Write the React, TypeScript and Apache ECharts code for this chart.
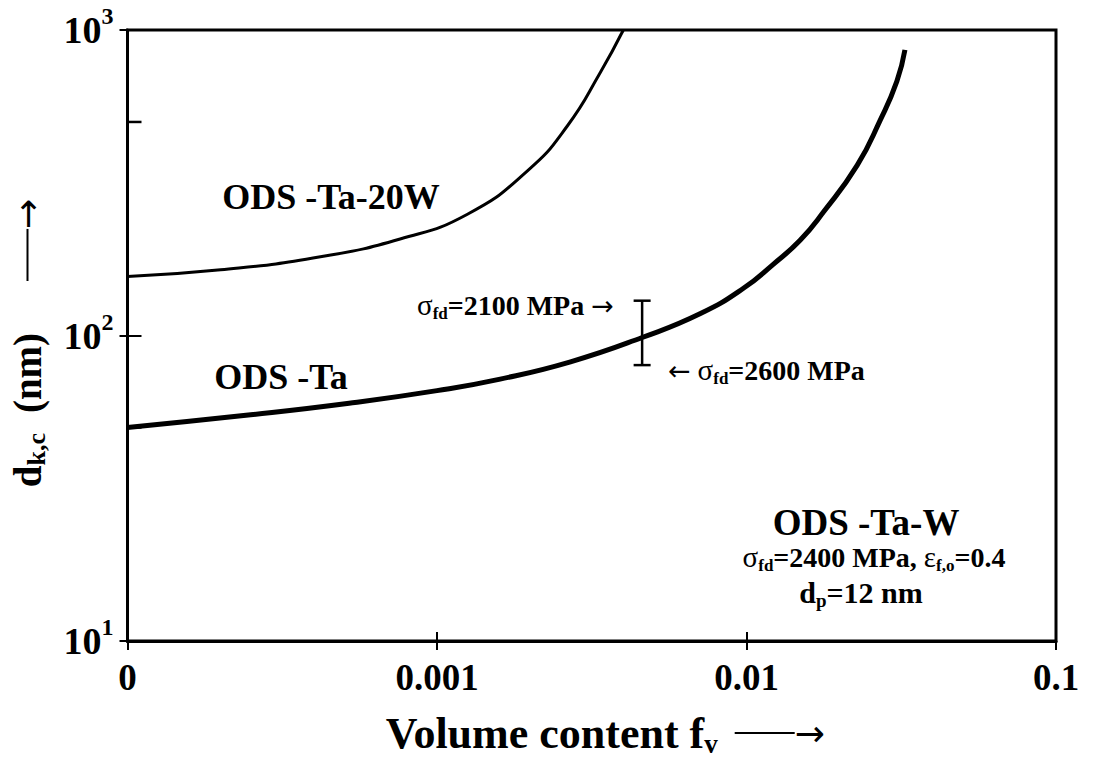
import React, { useEffect, useRef } from "react";
import * as echarts from "echarts";

// ---- data ----
const fvTa20W = [1e-4, 2e-4, 4.2e-4, 7.6e-4, 1.25e-3, 1.96e-3, 2.64e-3, 3.37e-3, 4.0e-3];
const dTa20W = [156, 164, 181, 207, 249, 346, 486, 726, 1000];

const fvTa = [1e-4, 2.5e-4, 5.2e-4, 1e-3, 1.6e-3, 2.7e-3, 4.6e-3, 7.1e-3, 9.8e-3, 1.22e-2, 1.49e-2, 1.77e-2, 2.28e-2, 2.7e-2, 3.06e-2, 3.25e-2];
const dTa = [50, 55, 60, 66, 72, 82, 98.5, 118, 143, 171, 205, 253, 361, 505, 679, 861];

const errFv = [4.6e-3];
const errLow = [80];
const errHigh = [130];

const xTicks = [1e-4, 1e-3, 1e-2, 1e-1];
const xTickLabels = ["0", "0.001", "0.01", "0.1"];
const yMinorTicks = [50, 500];

const FONT = "'Liberation Serif', 'Times New Roman', Times, serif";
const ARROW_FONT = "'DejaVu Sans', sans-serif";

export default function App() {
  const ref = useRef<HTMLDivElement>(null);

  useEffect(() => {
    if (!ref.current) return;
    const chart = echarts.init(ref.current, undefined, { renderer: "svg" });

    const xLabel = (v: number) => {
      const i = xTicks.findIndex((t) => Math.abs(Math.log10(t) - Math.log10(v)) < 0.01);
      return i >= 0 ? xTickLabels[i] : "";
    };
    const yLabel = (v: number) => `{b|10}{s|${Math.round(Math.log10(v))}}`;

    const bold = (size: number, extra: any = {}) => ({
      fontSize: size,
      fontWeight: "bold",
      fontFamily: FONT,
      fill: "#000",
      ...extra,
    });

    const annRich = {
      g: { fontSize: 29, fontFamily: FONT, fill: "#000", lineHeight: 34 },
      sub: { fontSize: 17, fontWeight: "bold", fontFamily: FONT, fill: "#000", verticalAlign: "bottom" },
      b: bold(28, { lineHeight: 34 }),
      a: { fontSize: 27, fontFamily: ARROW_FONT, fill: "#000" },
    };

    const option: any = {
      animation: false,
      backgroundColor: "#fff",
      grid: {
        left: 127,
        right: 38,
        top: 30,
        bottom: 112,
        show: true,
        borderColor: "#000",
        borderWidth: 3,
        backgroundColor: "transparent",
      },
      xAxis: [
        {
          type: "log",
          logBase: 10,
          min: 1e-4,
          max: 0.1,
          position: "bottom",
          axisLine: { show: true, lineStyle: { color: "#000", width: 3 } },
          axisTick: { show: true, inside: false, length: 9, lineStyle: { color: "#000", width: 2 } },
          splitLine: { show: false },
          axisLabel: {
            formatter: xLabel,
            fontSize: 37,
            fontWeight: "bold",
            fontFamily: FONT,
            color: "#000",
            margin: 18,
          },
          name: "{b|Volume content f}{s|v}{g| }{ln| }{a|→}",
          nameLocation: "middle",
          nameGap: 68,
          nameTextStyle: {
            padding: [0, 0, 0, 27],
            rich: {
              b: { fontSize: 44, fontWeight: "bold", fontFamily: FONT, color: "#000", lineHeight: 48 },
              s: { fontSize: 27, fontWeight: "bold", fontFamily: FONT, color: "#000", verticalAlign: "bottom" },
              g: { width: 17 },
              ln: { width: 60, height: 2, backgroundColor: "#000" },
              a: { fontSize: 36, fontWeight: "normal", fontFamily: ARROW_FONT, color: "#000" },
            },
          },
        },
        {
          type: "log",
          logBase: 10,
          min: 1e-4,
          max: 0.1,
          position: "bottom",
          axisLine: { show: false },
          axisTick: { show: true, inside: true, length: 9, lineStyle: { color: "#000", width: 2 } },
          axisLabel: { show: false },
          splitLine: { show: false },
        },
      ],
      yAxis: [
        {
          type: "log",
          logBase: 10,
          min: 10,
          max: 1000,
          position: "left",
          axisLine: { show: true, lineStyle: { color: "#000", width: 3 } },
          axisTick: { show: true, inside: false, length: 8, lineStyle: { color: "#000", width: 2 } },
          splitLine: { show: false },
          axisLabel: {
            formatter: yLabel,
            margin: 14,
            rich: {
              b: { fontSize: 38, fontWeight: "bold", fontFamily: FONT, color: "#000", lineHeight: 52 },
              s: { fontSize: 24, fontWeight: "bold", fontFamily: FONT, color: "#000", verticalAlign: "top" },
            },
          },
          name: "{b|d}{s|k,c}{g| }{b|(nm)}{g2| }{ln| }{a|→}",
          nameLocation: "middle",
          nameRotate: 90,
          nameGap: 78,
          nameTextStyle: {
            padding: [0, 15, 0, 0],
            rich: {
              b: { fontSize: 39, fontWeight: "bold", fontFamily: FONT, color: "#000", lineHeight: 44 },
              s: { fontSize: 26, fontWeight: "bold", fontFamily: FONT, color: "#000", verticalAlign: "bottom" },
              g: { width: 20 },
              g2: { width: 52 },
              ln: { width: 52, height: 2, backgroundColor: "#000" },
              a: { fontSize: 36, fontWeight: "normal", fontFamily: ARROW_FONT, color: "#000" },
            },
          },
        },
        {
          type: "log",
          logBase: 10,
          min: 10,
          max: 1000,
          position: "left",
          axisLine: { show: false },
          axisTick: { show: true, inside: true, length: 14, lineStyle: { color: "#000", width: 2 } },
          axisLabel: { show: false },
          splitLine: { show: false },
        },
      ],
      series: [
        {
          name: "ODS-Ta-20W",
          type: "line",
          xAxisIndex: 0,
          yAxisIndex: 0,
          smooth: 0.5,
          symbol: "none",
          lineStyle: { color: "#000", width: 3 },
          data: fvTa20W.map((f, i) => [f, dTa20W[i]]),
        },
        {
          name: "ODS-Ta",
          type: "line",
          xAxisIndex: 0,
          yAxisIndex: 0,
          smooth: 0.5,
          symbol: "none",
          lineStyle: { color: "#000", width: 5 },
          data: fvTa.map((f, i) => [f, dTa[i]]),
        },
        {
          name: "minor ticks",
          type: "custom",
          xAxisIndex: 0,
          yAxisIndex: 0,
          silent: true,
          data: yMinorTicks.map((v) => [xTicks[0], v]),
          renderItem: (_p: any, api: any) => {
            const p = api.coord([api.value(0), api.value(1)]);
            return {
              type: "line",
              shape: { x1: p[0], y1: p[1], x2: p[0] + 14, y2: p[1] },
              style: { stroke: "#000", lineWidth: 2.5 },
            };
          },
        },
        {
          name: "error bar",
          type: "custom",
          xAxisIndex: 0,
          yAxisIndex: 0,
          silent: true,
          data: errFv.map((f, i) => [f, errLow[i], errHigh[i]]),
          encode: { x: 0, y: [1, 2] },
          renderItem: (_p: any, api: any) => {
            const lo = api.coord([api.value(0), api.value(1)]);
            const hi = api.coord([api.value(0), api.value(2)]);
            const w = 8.5;
            const st = { stroke: "#000", lineWidth: 2.5 };
            return {
              type: "group",
              children: [
                { type: "line", shape: { x1: lo[0], y1: lo[1], x2: hi[0], y2: hi[1] }, style: st },
                { type: "line", shape: { x1: lo[0] - w, y1: lo[1], x2: lo[0] + w, y2: lo[1] }, style: st },
                { type: "line", shape: { x1: hi[0] - w, y1: hi[1], x2: hi[0] + w, y2: hi[1] }, style: st },
              ],
            };
          },
        },
      ],
      graphic: [
        {
          type: "text",
          x: 331,
          y: 197,
          style: { text: "ODS -Ta-20W", ...bold(36), align: "center", verticalAlign: "middle" },
        },
        {
          type: "text",
          x: 281,
          y: 377,
          style: { text: "ODS -Ta", ...bold(36), align: "center", verticalAlign: "middle" },
        },
        {
          type: "text",
          x: 417,
          y: 305,
          style: {
            text: "{g|σ}{sub|fd}{b|=2100 MPa }{a|→}",
            align: "left",
            verticalAlign: "middle",
            rich: annRich,
          },
        },
        {
          type: "text",
          x: 668,
          y: 370,
          style: {
            text: "{a|←}{b| }{g|σ}{sub|fd}{b|=2600 MPa}",
            align: "left",
            verticalAlign: "middle",
            rich: annRich,
          },
        },
        {
          type: "text",
          x: 866,
          y: 522,
          style: { text: "ODS -Ta-W", ...bold(37), align: "center", verticalAlign: "middle" },
        },
        {
          type: "text",
          x: 874,
          y: 557,
          style: {
            text: "{g|σ}{sub|fd}{b|=2400 MPa, }{g|ε}{sub|f,o}{b|=0.4}",
            align: "center",
            verticalAlign: "middle",
            rich: annRich,
          },
        },
        {
          type: "text",
          x: 861,
          y: 592,
          style: {
            text: "{b|d}{sub|p}{b|=12 nm}",
            align: "center",
            verticalAlign: "middle",
            rich: {
              sub: { fontSize: 19, fontWeight: "bold", fontFamily: FONT, fill: "#000", verticalAlign: "bottom" },
              b: bold(30, { lineHeight: 36 }),
            },
          },
        },
      ],
    };

    chart.setOption(option);
    return () => chart.dispose();
  }, []);

  return (
    <div
      ref={ref}
      style={{ position: "fixed", left: 0, top: 0, width: 1094, height: 762, background: "#fff" }}
    />
  );
}
